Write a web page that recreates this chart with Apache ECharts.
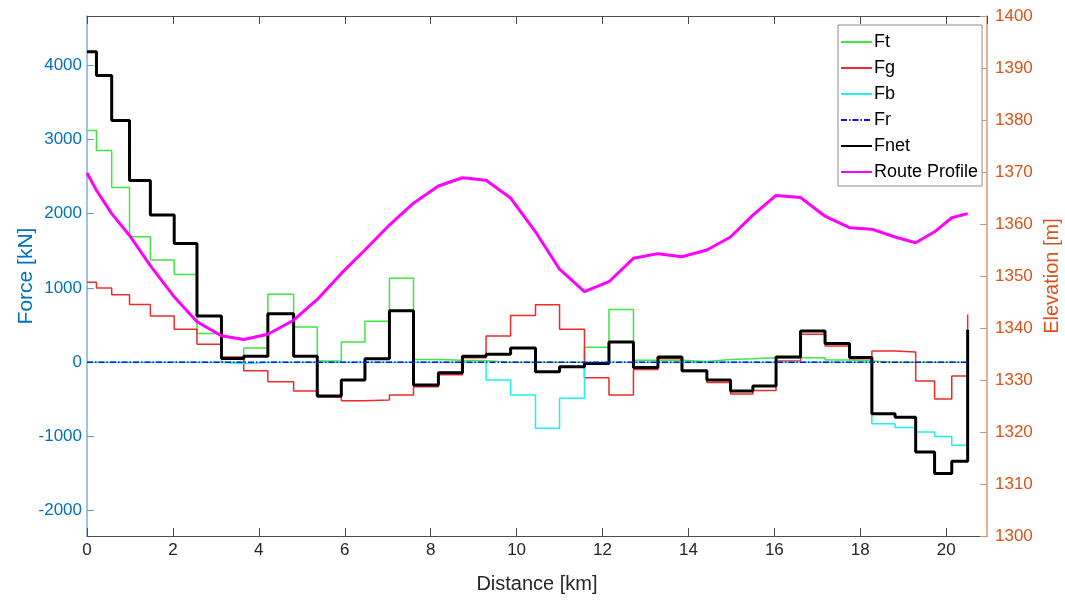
<!DOCTYPE html>
<html>
<head>
<meta charset="utf-8">
<script src="https://cdn.jsdelivr.net/npm/echarts@6/dist/echarts.min.js"></script>
<style>
html,body{margin:0;padding:0;background:#fff;}
#chart{width:1065px;height:601px;}
</style>
</head>
<body>
<div id="chart"></div>
<script>
// Segment boundaries (km)
var distance = [0, 0.22, 0.575, 0.99, 1.475, 2.03, 2.56, 3.13, 3.65, 4.21, 4.81, 5.36, 5.92, 6.47, 7.04, 7.60, 8.18, 8.74, 9.29, 9.86, 10.44, 11.0, 11.58, 12.15, 12.72, 13.29, 13.85, 14.43, 14.98, 15.5, 16.04, 16.61, 17.18, 17.75, 18.27, 18.81, 19.29, 19.73, 20.13, 20.50];
// Force values per segment (kN), last entry = value at final boundary
var ft = [3120, 2850, 2350, 1690, 1375, 1180, 385, 0, 190, 915, 475, 15, 272, 550, 1130, 36, 27, 20, 0, 0, 0, 0, 200, 710, 27, 25, 10, 35, 45, 60, 60, 58, 30, 15, 0, 0, 0, 0, 0, 0];
var fg = [1075, 1000, 906, 776, 620, 442, 241, 71, -116, -263, -388, -470, -518, -509, -442, -331, -170, 60, 352, 629, 772, 442, -210, -442, -98, 50, -126, -272, -430, -380, 15, 375, 218, 45, 151, 138, -254, -495, -187, 643];
var fb = [0, 0, 0, 0, 0, 0, 0, -20, 0, 0, 0, 0, 0, 0, 0, 0, 0, 0, -241, -442, -888, -487, 0, 0, 0, 0, 0, 0, 0, 0, 0, 0, 0, 0, -830, -879, -941, -1000, -1120, -205];
var fr = [0, 0, 0, 0, 0, 0, 0, 0, 0, 0, 0, 0, 0, 0, 0, 0, 0, 0, 0, 0, 0, 0, 0, 0, 0, 0, 0, 0, 0, 0, 0, 0, 0, 0, 0, 0, 0, 0, 0, 0];
var fnet = [4180, 3860, 3253, 2445, 1981, 1597, 620, 50, 80, 652, 80, -455, -240, 45, 692, -308, -143, 81, 108, 192, -130, -63, -17, 272, -71, 71, -116, -241, -388, -321, 71, 419, 251, 63, -696, -740, -1209, -1499, -1335, 438];
// Route elevation at each boundary (m)
var elevation = [1369.8, 1366.5, 1362.0, 1357.8, 1352.0, 1346.0, 1341.2, 1338.5, 1337.8, 1338.8, 1341.5, 1345.5, 1350.5, 1355.0, 1359.8, 1364.0, 1367.3, 1368.9, 1368.4, 1365.0, 1358.5, 1351.3, 1347.0, 1348.9, 1353.4, 1354.3, 1353.7, 1355.0, 1357.5, 1361.7, 1365.5, 1365.1, 1361.5, 1359.3, 1359.0, 1357.5, 1356.4, 1358.5, 1361.2, 1362.0];
var xTicks = [0, 2, 4, 6, 8, 10, 12, 14, 16, 18, 20];
var forceTicks = [-2000, -1000, 0, 1000, 2000, 3000, 4000];
var elevTicks = [1300, 1310, 1320, 1330, 1340, 1350, 1360, 1370, 1380, 1390, 1400];

function pairs(xs, ys) {
  var out = [];
  for (var i = 0; i < xs.length; i++) out.push([xs[i], ys[i]]);
  return out;
}

var FONT = 'Liberation Sans, Arial, sans-serif';
var BLUE = '#0072BD';
var ORANGE = '#D95319';

var chart = echarts.init(document.getElementById('chart'), null, {renderer: 'canvas'});

function stepSeries(name, vals, color, width, z, type) {
  return {
    name: name, type: 'line', step: 'end', yAxisIndex: 0, xAxisIndex: 0,
    data: pairs(distance, vals), symbol: 'none', showSymbol: false, z: z,
    lineStyle: {color: color, width: width, type: type || 'solid'},
    itemStyle: {color: color}, emphasis: {disabled: true}, animation: false
  };
}

var hiddenSym = {color: 'rgba(0,0,0,0)', borderColor: 'rgba(0,0,0,0)', borderWidth: 0, opacity: 0};

var option = {
  animation: false,
  backgroundColor: '#ffffff',
  grid: {left: 87, right: 78, top: 16, bottom: 65, containLabel: false, outerBoundsMode: 'none'},
  legend: {
    orient: 'vertical', left: 838, top: 25,
    backgroundColor: '#ffffff', borderColor: '#8c8c8c', borderWidth: 1, borderRadius: 0,
    padding: [8, 4, 5, 2], itemWidth: 31, itemHeight: 14, itemGap: 8,
    itemStyle: hiddenSym,
    textStyle: {fontFamily: FONT, fontSize: 18, color: '#000', padding: [0, 0, 0, -3]},
    data: ['Ft', 'Fg', 'Fb', 'Fr', 'Fnet', 'Route Profile']
  },
  xAxis: [{
    type: 'value', min: 0, max: 20.95, interval: 2, position: 'bottom',
    name: 'Distance [km]', nameLocation: 'middle', nameGap: 38,
    nameTextStyle: {fontFamily: FONT, fontSize: 20, color: '#262626'},
    axisLine: {show: true, onZero: false, lineStyle: {color: '#4d4d4d', width: 1}},
    axisTick: {show: true, inside: true, length: 8, lineStyle: {color: '#4d4d4d'}},
    axisLabel: {fontFamily: FONT, fontSize: 17, color: '#262626', margin: 6, showMaxLabel: false,
      formatter: function (v) { return xTicks.indexOf(v) >= 0 ? String(v) : ''; }},
    splitLine: {show: false}
  }, {
    type: 'value', min: 0, max: 20.95, interval: 2, position: 'top',
    axisLine: {show: true, onZero: false, lineStyle: {color: '#4d4d4d', width: 1}},
    axisTick: {show: true, inside: true, length: 8, lineStyle: {color: '#4d4d4d'}},
    axisLabel: {show: false}, splitLine: {show: false}
  }],
  yAxis: [{
    type: 'value', min: -2340, max: 4660, splitNumber: 7, position: 'left',
    name: 'Force [kN]', nameLocation: 'middle', nameGap: 50, nameRotate: 90, nameMoveOverlap: false,
    nameTextStyle: {fontFamily: FONT, fontSize: 21, color: BLUE},
    axisLine: {show: true, onZero: false, lineStyle: {color: '#7fb0d6', width: 1.5}},
    axisTick: {show: true, inside: true, length: 7, lineStyle: {color: '#5f9cc9'}},
    axisLabel: {fontFamily: FONT, fontSize: 17, color: BLUE, margin: 5, showMinLabel: false, showMaxLabel: false,
      formatter: function (v) { return forceTicks.indexOf(v) >= 0 ? String(v) : ''; }},
    splitLine: {show: false}
  }, {
    type: 'value', min: 1300, max: 1400, interval: 10, position: 'right',
    name: 'Elevation [m]', nameLocation: 'middle', nameGap: 55, nameRotate: 90, nameMoveOverlap: false,
    nameTextStyle: {fontFamily: FONT, fontSize: 20, color: ORANGE},
    axisLine: {show: true, onZero: false, lineStyle: {color: '#d8966f', width: 1.5}},
    axisTick: {show: true, inside: true, length: 7, lineStyle: {color: '#d8966f'}},
    axisLabel: {fontFamily: FONT, fontSize: 17, color: ORANGE, margin: 8,
      formatter: function (v) { return elevTicks.indexOf(v) >= 0 ? String(v) : ''; }},
    splitLine: {show: false}
  }],
  series: [
    stepSeries('Ft', ft, '#3ee83e', 1.5, 2),
    stepSeries('Fg', fg, '#ee2b2b', 1.5, 2),
    stepSeries('Fb', fb, '#1ff0f0', 1.5, 2),
    stepSeries('Fr', fr, '#1010ee', 1.5, 6, [6, 2, 1.5, 2]),
    stepSeries('Fnet', fnet, '#000000', 3, 4),
    {
      name: 'Route Profile', type: 'line', yAxisIndex: 1, xAxisIndex: 0,
      data: pairs(distance, elevation), symbol: 'none', showSymbol: false, z: 5,
      lineStyle: {color: '#ff00ff', width: 3}, itemStyle: {color: '#ff00ff'},
      emphasis: {disabled: true}, animation: false
    }
  ]
};
chart.setOption(option);
</script>
</body>
</html>
